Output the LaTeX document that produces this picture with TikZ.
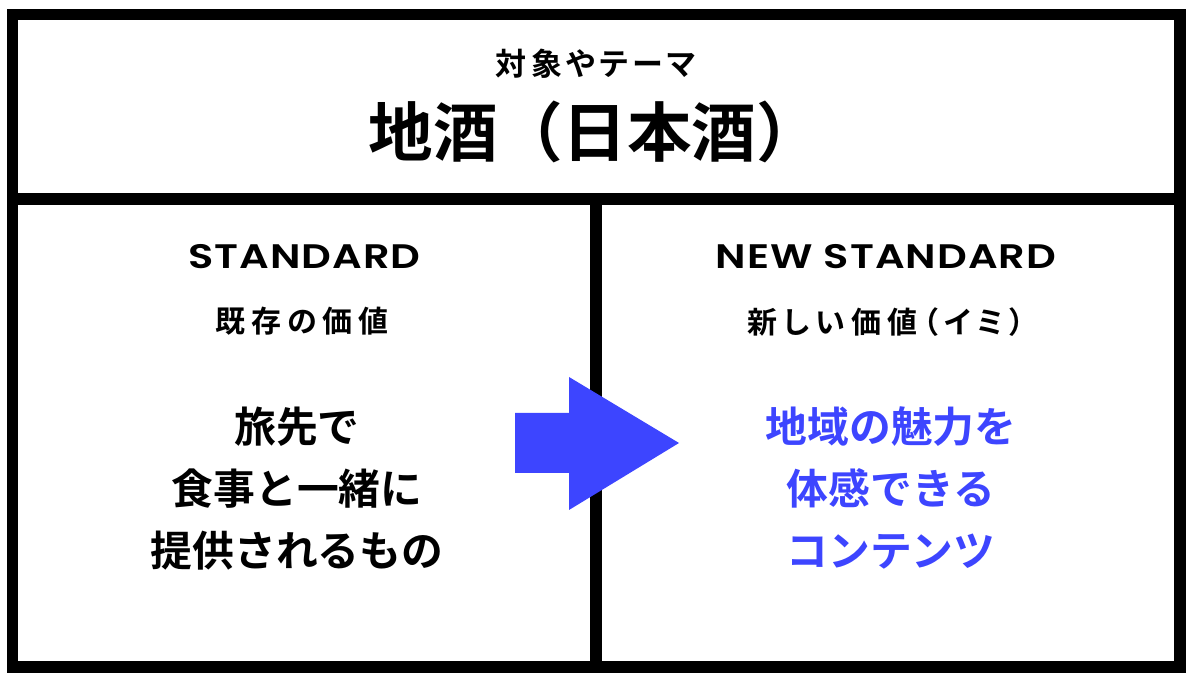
\documentclass[tikz,border=0pt]{standalone}
\usepackage{fontspec}
\newfontfamily\jpfont{Noto Sans CJK JP}[UprightFont=* Bold]
\newfontfamily\jpspaced{Noto Sans CJK JP}[UprightFont=* Bold,RawFeature=+palt,LetterSpace=20]
\newfontfamily\jptheme{Noto Sans CJK JP}[UprightFont=* Bold,RawFeature=+palt,LetterSpace=14]
\newfontfamily\enfont{Poppins}[UprightFont=* SemiBold,FakeStretch=1.22,LetterSpace=3]
\definecolor{newblue}{RGB}{61,69,255}

\begin{document}
\begin{tikzpicture}[x=0.5pt,y=-0.5pt]
\tikzset{frame/.style={draw=black, line width=5.75pt},
         small/.style={font=\jpspaced\fontsize{15}{16}\selectfont, inner sep=0pt},
         heading/.style={font=\enfont\fontsize{17}{18}\selectfont, inner sep=0pt},
         body/.style={font=\jpfont\fontsize{20.9}{31}\selectfont, align=center, inner sep=0pt}}
\useasboundingbox (0,0) rectangle (1200,683);
% frame and dividers
\draw[frame] (12.5,14.5) rectangle (1180,667);
\draw[frame] (12.5,199) -- (1180,199);
\draw[frame] (596,199) -- (596,667);
% top
\node[font=\jptheme\fontsize{15.5}{16}\selectfont, inner sep=0pt] (theme) at (596,63.5) {対象やテーマ};
\node[font=\jpfont\fontsize{32.3}{34}\selectfont, inner sep=0pt] (title) at (595,132) {地酒（日本酒）};
% left
\node[heading] (std) at (304.5,257) {STANDARD};
\node[small] (stdsub) at (302,321.5) {既存の価値};
\node[body] (old) at (297,489) {旅先で\\食事と一緒に\\提供されるもの};
% right
\node[heading] (newstd) at (886,257) {NEW STANDARD};
\node[small] (newsub) at (886,322) {新しい価値（イミ）};
\node[body, text=newblue] (new) at (891,488) {地域の魅力を\\体感できる\\コンテンツ};
% arrow
\fill[newblue] (515,413) -- (569,413) -- (569,377) -- (679,443) -- (569,510) -- (569,473) -- (515,473) -- cycle;
\end{tikzpicture}
\end{document}
